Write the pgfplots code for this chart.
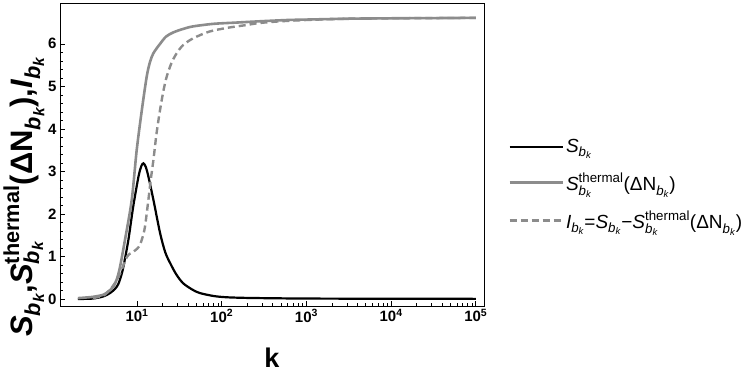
\documentclass[border=0pt]{standalone}
\usepackage{fontspec}
\setmainfont{Liberation Sans}
\usepackage{amsmath}
\usepackage{pgfplots}
\pgfplotsset{compat=1.18}

\definecolor{mgray}{RGB}{140,140,140}

\newcommand{\Sb}{\textit{S}_{\textit{b}_{\textit{k}}}}
\newcommand{\Sth}{\textit{S}^{\text{thermal}}_{\textit{b}_{\textit{k}}}}
\newcommand{\dN}{\text{(ΔN}_{\textit{b}_{\textit{k}}}\text{)}}
\newcommand{\Ib}{\textit{I}_{\textit{b}_{\textit{k}}}}

\begin{document}
\begin{tikzpicture}
\begin{axis}[
    scale only axis,
    width=424pt,
    height=303pt,
    xmode=log,
    xmin=1.23, xmax=1.25e5,
    ymin=-0.165, ymax=6.96,
    xtick={10,100,1000,10000,100000},
    xticklabels={10\textsuperscript{1},10\textsuperscript{2},10\textsuperscript{3},10\textsuperscript{4},10\textsuperscript{5}},
    ytick={0,1,2,3,4,5,6},
    yticklabels={0,1,2,3,4,5,6},
    minor y tick num=4,
    tick align=inside,
    xtick pos=lower,
    ytick pos=left,
    major tick length=5pt,
    minor tick length=3pt,
    axis line style={line width=0.9pt},
    tick style={black, line width=0.6pt},
    ticklabel style={font=\bfseries\fontsize{15}{18}\selectfont},
    every axis y label/.style={at={(axis description cs:-0.085,0.36)}, rotate=90, anchor=center},
    every axis x label/.style={at={(axis description cs:0.5,-0.17)}, anchor=center, inner sep=0pt},
    ylabel={\bfseries\fontsize{31}{36}\selectfont $\Sb\text{,}\Sth\dN\text{,}\Ib$},
    xlabel={\bfseries\fontsize{27}{30}\selectfont k},
    legend style={draw=none, fill=none, at={(rel axis cs:1.05,0.40)}, anchor=west,
        font=\fontsize{19}{22}\selectfont, row sep=15pt},
    legend cell align=left,
    legend image code/.code={\draw[#1] (0pt,0pt) -- (53pt,0pt);},
]
\addplot[black, line width=2.2pt, smooth] coordinates {
(2,0.0) (3,0.01) (4,0.06) (4.8,0.14) (5.5,0.24) (6,0.35) (6.5,0.55) (6.9,0.76) (7.9,1.39) (9,2.17) (10.4,2.88) (11.2,3.12) (11.9,3.19) (12.7,3.1) (13.6,2.88) (15.6,2.33) (18.7,1.55) (21.5,1.1) (24.5,0.85) (29,0.58) (35,0.37) (45,0.22) (55,0.14) (80,0.07) (115,0.04) (200,0.025) (500,0.015) (1000,0.01) (10000,0.005) (100000,0.003)
};
\addlegendentry{$\Sb$}
\addplot[mgray, line width=2.6pt, smooth] coordinates {
(2,0.02) (3,0.05) (4,0.1) (4.6,0.18) (5.25,0.29) (5.8,0.48) (6.3,0.76) (7.2,1.39) (8.65,2.33) (9.9,3.5) (11.4,4.45) (13,5.23) (14.2,5.57) (15.6,5.78) (18.7,6.0) (22,6.17) (26.9,6.27) (35,6.35) (46,6.41) (80,6.47) (150,6.50) (283,6.53) (600,6.56) (1000,6.57) (3000,6.59) (10000,6.6) (100000,6.61)
};
\addlegendentry{$\Sth\dN$}
\addplot[mgray, line width=2.4pt, dash pattern=on 7pt off 4pt, smooth] coordinates {
(3,0.02) (4,0.08) (4.8,0.22) (5.5,0.38) (6.3,0.6) (7.55,0.98) (8.3,1.07) (9,1.11) (10,1.18) (10.8,1.27) (11.6,1.45) (12.4,1.7) (13.6,2.33) (14.5,2.8) (15.6,3.27) (17,3.9) (18.7,4.45) (20.5,4.9) (22.4,5.23) (25.5,5.55) (29.4,5.78) (35,5.97) (46,6.13) (72,6.29) (120,6.38) (178,6.43) (283,6.49) (500,6.53) (1000,6.56) (3000,6.59) (10000,6.6) (100000,6.61)
};
\addlegendentry{$\Ib\text{=}\Sb\text{−}\Sth\dN$}
\end{axis}
\pgfresetboundingbox
\path (-60pt,-68pt) rectangle (687pt,306pt);
\end{tikzpicture}
\end{document}
